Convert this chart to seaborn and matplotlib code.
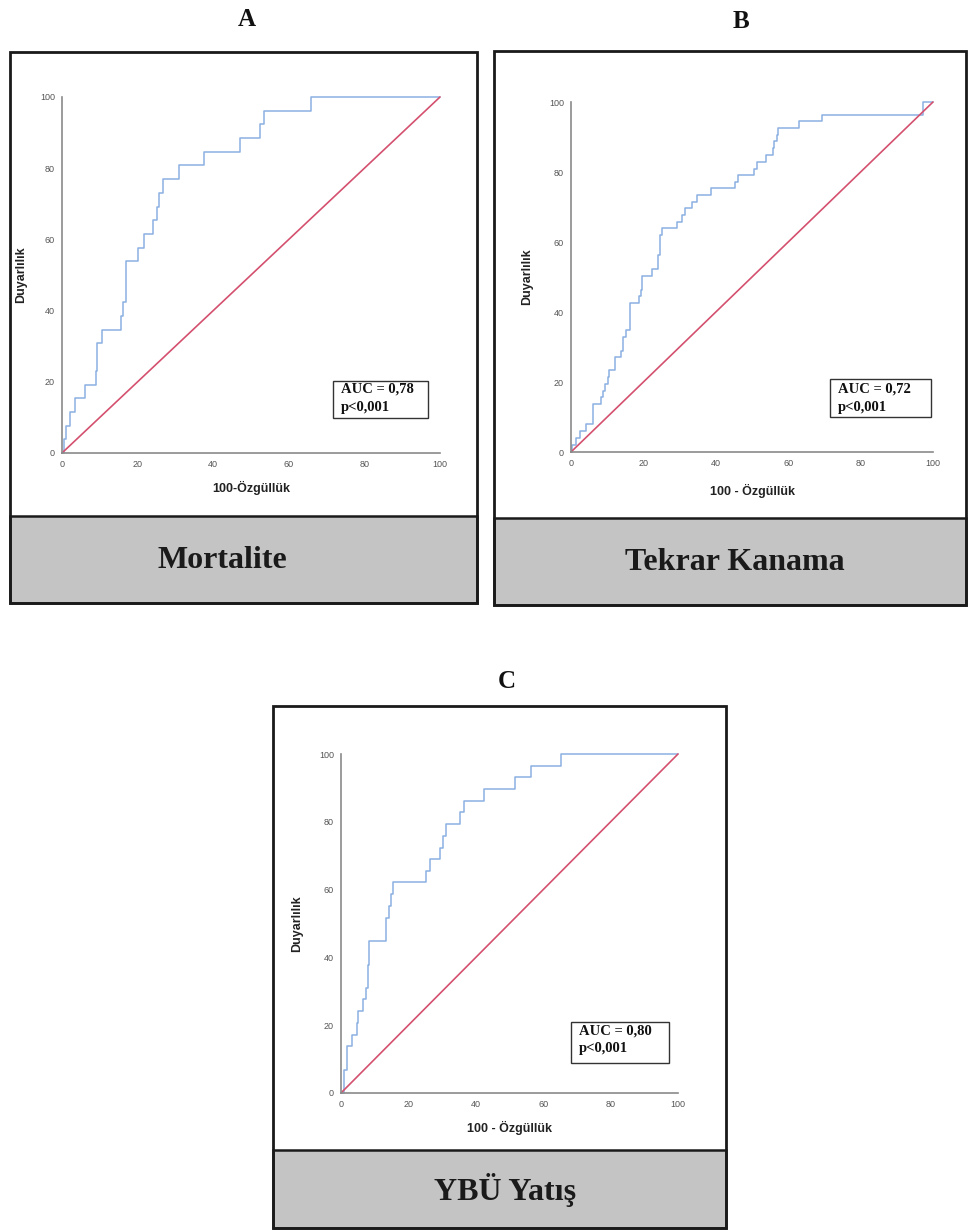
import matplotlib
matplotlib.use("Agg")
import matplotlib.pyplot as plt
from matplotlib.patches import Rectangle
import seaborn as sns
import pandas as pd

# ---------------- data ----------------
panel_letters = ["A", "B", "C"]
outcome_names = ["Mortalite", "Tekrar Kanama", "YBÜ Yatış"]
x_labels = ["100-Özgüllük", "100 - Özgüllük", "100 - Özgüllük"]
y_label = "Duyarlılık"
auc_texts = ["AUC = 0,78", "AUC = 0,72", "AUC = 0,80"]
p_texts = ["p<0,001", "p<0,001", "p<0,001"]
tick_values = [0, 20, 40, 60, 80, 100]

A_fpr = [0, 0.5, 1, 2, 3.5, 6, 9, 9.3, 10.5, 15.5, 16.2, 17, 20, 21.7, 24, 25.2,
         25.6, 26.6, 31, 37.5, 47, 52.5, 53.5, 66, 100]
A_tpr = [0, 3.85, 7.7, 11.5, 15.4, 19.2, 23.1, 30.8, 34.6, 38.5, 42.3, 53.8, 57.7,
         61.5, 65.4, 69.2, 73.1, 76.9, 80.8, 84.6, 88.5, 92.3, 96.2, 100, 100]

B_fpr = [0, 0.3, 1.5, 2.4, 4.2, 6.2, 8.3, 8.8, 9.3, 10.2, 10.6, 12.2, 13.9, 14.3,
         15.2, 16.2, 18.9, 19.4, 19.7, 22.5, 24.1, 24.7, 25.2, 29.2, 30.8, 31.5,
         33.3, 34.9, 38.7, 45.2, 46.1, 50.6, 51.4, 53.9, 55.7, 56.2, 56.8, 57.3,
         63.1, 69.4, 97.2, 100]
B_tpr = [0, 2, 3.9, 5.9, 7.9, 13.7, 15.6, 17.5, 19.4, 21.3, 23.3, 27.1, 29, 32.8,
         34.9, 42.6, 44.5, 46.4, 50.3, 52.2, 56.2, 61.9, 63.9, 65.8, 67.7, 69.6,
         71.5, 73.4, 75.3, 77.2, 79.1, 81, 83, 85, 86.9, 88.8, 90.7, 92.6, 94.5,
         96.4, 100, 100]

C_fpr = [0, 1, 1.7, 3.2, 4.7, 5.1, 6.6, 7.3, 7.9, 8.4, 13.3, 14.1, 14.9, 15.3,
         25.2, 26.4, 29.4, 30.4, 31.2, 35.3, 36.6, 42.3, 51.7, 56.3, 65.3, 100]
C_tpr = [0, 6.9, 13.8, 17.2, 20.7, 24.1, 27.6, 31.0, 37.9, 44.8, 51.7, 55.2, 58.6,
         62.1, 65.5, 69.0, 72.4, 75.9, 79.3, 82.8, 86.2, 89.7, 93.1, 96.6, 100, 100]

ref_line = [0, 100]

curves = [(A_fpr, A_tpr), (B_fpr, B_tpr), (C_fpr, C_tpr)]

# ---------------- style ----------------
sns.set_style("white")
plt.rcParams["font.family"] = ["Liberation Sans", "DejaVu Sans"]

W, H = 968, 1230
fig = plt.figure(figsize=(W / 100, H / 100), dpi=100)
fig.patch.set_facecolor("white")


def fr(x0, y_top, x1, y_bot):
    return [x0 / W, 1 - y_bot / H, (x1 - x0) / W, (y_bot - y_top) / H]


# panel layout in pixels
frames = [(10, 52, 477, 603), (494, 51, 966, 605), (273, 706, 726, 1228)]
bands = [516, 518, 1150]
axes_px = [(62, 97, 440, 453), (571, 102, 933, 452), (341, 754, 678, 1093)]
letter_pos = [(247, 20), (741, 22), (507, 682)]
band_text_pos = [(222, 560), (735, 562), (505, 1190)]
band_font = [23, 23, 23]
xlabel_coords = [-0.079, -0.091, -0.083]
ylabel_coords = [-0.093, -0.105, -0.113]
auc_boxes = [(71.7, 9.8, 96.8, 20.2), (71.5, 10.0, 99.4, 20.9), (68.2, 8.8, 97.3, 20.9)]
auc_text_pos = [(73.8, 18.0, 12.9), (73.8, 18.0, 12.6), (70.6, 18.3, 13.0)]

blue = "#8bb0e2"
red = "#d4506f"

for i in range(3):
    fx0, fy0, fx1, fy1 = frames[i]
    # grey band
    fig.patches.append(Rectangle((fx0 / W, 1 - fy1 / H), (fx1 - fx0) / W,
                                 (fy1 - bands[i]) / H, transform=fig.transFigure,
                                 facecolor="#c4c4c4", edgecolor="#1a1a1a",
                                 linewidth=1.8, zorder=0))
    # outer frame
    fig.patches.append(Rectangle((fx0 / W, 1 - fy1 / H), (fx1 - fx0) / W,
                                 (fy1 - fy0) / H, transform=fig.transFigure,
                                 facecolor="none", edgecolor="#1a1a1a",
                                 linewidth=2.0, zorder=1))
    lx, ly = letter_pos[i]
    fig.text(lx / W, 1 - ly / H, panel_letters[i], ha="center", va="center",
             fontsize=18, fontweight="bold", family="Liberation Serif", color="#111")
    bx, by = band_text_pos[i]
    fig.text(bx / W, 1 - by / H, outcome_names[i], ha="center", va="center",
             fontsize=band_font[i], fontweight="bold", family="Liberation Serif",
             color="#1a1a1a")

    ax = fig.add_axes(fr(*axes_px[i]))
    ax.set_facecolor("none")
    fpr, tpr = curves[i]
    df = pd.DataFrame({"fpr": fpr, "tpr": tpr})
    sns.lineplot(data=df, x="fpr", y="tpr", ax=ax, estimator=None, sort=False,
                 color=blue, linewidth=1.1, drawstyle="steps-post", clip_on=False)
    sns.lineplot(x=ref_line, y=ref_line, ax=ax, estimator=None, sort=False,
                 color=red, linewidth=1.2, clip_on=False)
    ax.set_xlim(0, 100)
    ax.set_ylim(0, 100)
    ax.set_xticks(tick_values)
    ax.set_yticks(tick_values)
    ax.tick_params(length=0, labelsize=6.5, labelcolor="#555555", pad=5)
    for s in ["top", "right"]:
        ax.spines[s].set_visible(False)
    for s in ["left", "bottom"]:
        ax.spines[s].set_color("#8a8a8a")
        ax.spines[s].set_linewidth(1.2)
    ax.set_xlabel(x_labels[i], fontsize=9, fontweight="bold", color="#222222")
    ax.set_ylabel(y_label, fontsize=9, fontweight="bold", color="#222222")
    ax.xaxis.set_label_coords(0.5, xlabel_coords[i])
    ax.yaxis.set_label_coords(ylabel_coords[i], 0.5)

    x0b, y0b, x1b, y1b = auc_boxes[i]
    ax.add_patch(Rectangle((x0b, y0b), x1b - x0b, y1b - y0b, facecolor="white",
                           edgecolor="#333333", linewidth=1.0, zorder=5))
    tx, ty1, ty2 = auc_text_pos[i]
    ax.text(tx, ty1, auc_texts[i], ha="left", va="center", fontsize=10.5,
            fontweight="bold", family="Liberation Serif", color="#111", zorder=6)
    ax.text(tx, ty2, p_texts[i], ha="left", va="center", fontsize=10.5,
            fontweight="bold", family="Liberation Serif", color="#111", zorder=6)

fig.savefig("out.png", dpi=100, facecolor="white")
